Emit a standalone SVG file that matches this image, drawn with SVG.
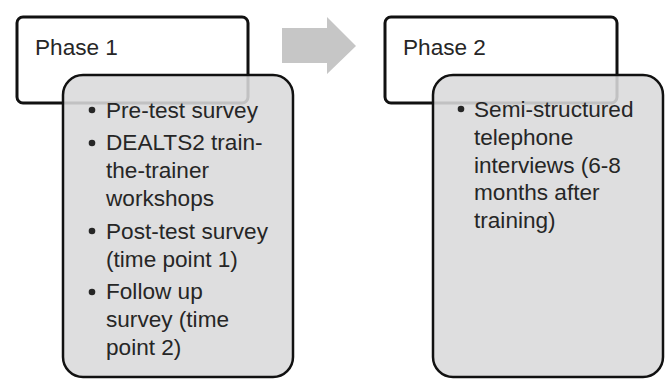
<svg xmlns="http://www.w3.org/2000/svg" width="670" height="380" viewBox="0 0 670 380">
<style>
.phase{fill:#ffffff;stroke:#111111;stroke-width:3}
.detail{fill:#d9dadb;fill-opacity:0.88;stroke:#111111;stroke-width:2.5}
text{font-family:"Liberation Sans",Arial,sans-serif;font-size:22.6px;fill:#262626}
.bul{fill:#262626}
</style>
<rect width="670" height="380" fill="#ffffff"/>
<g id="connectors">
<polygon points="282,28 327,28 327,17 356,46 327,74 327,63 282,63" fill="#c6c6c6"/>
</g>
<g id="phase1">
<rect class="phase" x="17" y="17" width="231" height="86" rx="6"/>
<text x="35" y="55">Phase 1</text>
</g>
<g id="phase1-details">
<rect class="detail" x="63" y="75" width="230" height="302" rx="20"/>
<circle class="bul" cx="92" cy="110" r="3.3"/>
<text x="106" y="117.5">Pre-test survey</text>
<circle class="bul" cx="92" cy="143" r="3.3"/>
<text x="106" y="150">DEALTS2 train-</text>
<text x="106" y="178">the-trainer</text>
<text x="106" y="206">workshops</text>
<circle class="bul" cx="92" cy="231" r="3.3"/>
<text x="106" y="238.5">Post-test survey</text>
<text x="106" y="266.5">(time point 1)</text>
<circle class="bul" cx="92" cy="292" r="3.3"/>
<text x="106" y="299">Follow up</text>
<text x="106" y="327">survey (time</text>
<text x="106" y="354.5">point 2)</text>
</g>
<g id="phase2">
<rect class="phase" x="385" y="17" width="232" height="86" rx="6"/>
<text x="403" y="55">Phase 2</text>
</g>
<g id="phase2-details">
<rect class="detail" x="433" y="75" width="230" height="302" rx="20"/>
<circle class="bul" cx="461" cy="109" r="3.3"/>
<text x="474" y="116.5">Semi-structured</text>
<text x="474" y="145">telephone</text>
<text x="474" y="172.5">interviews (6-8</text>
<text x="474" y="200">months after</text>
<text x="474" y="227.5">training)</text>
</g>
</svg>
